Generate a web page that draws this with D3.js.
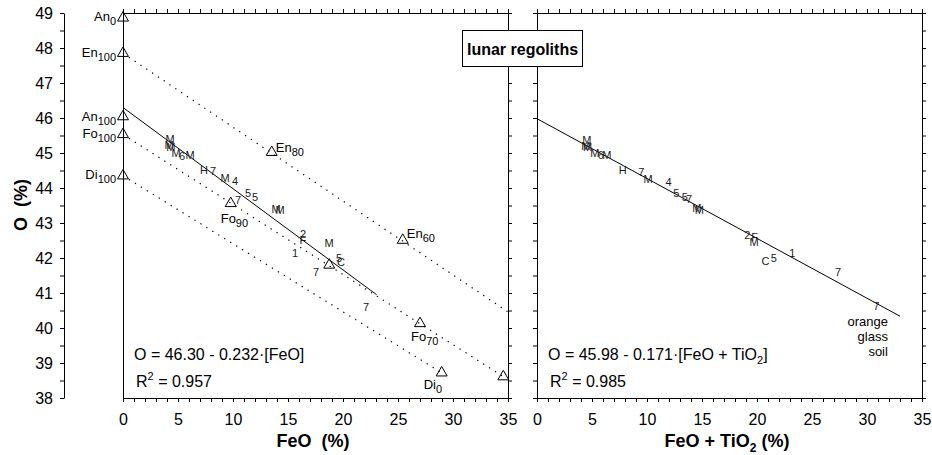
<!DOCTYPE html>
<html><head><meta charset="utf-8">
<script src="https://cdn.jsdelivr.net/npm/d3@7"></script>
<style>
body{margin:0;background:#fff}
text{font-family:Arial,"Liberation Sans",sans-serif;fill:#000}
</style>
</head><body>
<svg id="c" width="932" height="455"></svg>
<script>
// ---------- data ----------
const xTickLabels = [0, 5, 10, 15, 20, 25, 30, 35];
const yTickLabels = [38, 39, 40, 41, 42, 43, 44, 45, 46, 47, 48, 49];

// reference minerals (triangles), left panel
const minName = ["An", "En", "An", "Fo", "Di", "Fo", "En", "En", "Fo", "Di", "", ""];
const minSub  = ["0", "100", "100", "100", "100", "90", "80", "60", "70", "0", "", ""];
const minFeO  = [0, 0, 0, 0, 0, 9.79, 13.52, 25.43, 27.0, 28.97, 18.75, 34.57];
const minO    = [48.86, 47.85, 46.04, 45.53, 44.35, 43.56, 45.02, 42.51, 40.13, 38.72, 41.8, 38.61];

// mixing (tie) lines, left panel
const tieX0 = [0, 0, 0];
const tieY0 = [47.85, 45.53, 44.35];
const tieX1 = [35, 34.57, 28.97];
const tieY1 = [40.46, 38.61, 38.72];

// regolith samples, left panel (FeO, O)
const leftLab = ["M","M","M","M","6","M","H","7","M","4","5","5","7","M","M","2","F","1","M","7","5","C","7"];
const leftX   = [4.27,4.18,4.36,4.82,5.36,6.09,7.36,8.18,9.27,10.18,11.36,12.0,10.45,13.91,14.27,16.36,16.36,15.64,18.73,17.55,19.64,19.82,22.09];
const leftY   = [45.40,45.23,45.17,45.00,44.91,44.94,44.51,44.49,44.29,44.20,43.86,43.74,43.66,43.40,43.37,42.69,42.51,42.14,42.43,41.60,42.00,41.89,40.60];

// regolith samples, right panel (FeO + TiO2, O)
const rightLab = ["M","M","M","M","6","M","H","7","M","4","5","5","7","M","M","2","F","M","C","5","1","7","7"];
const rightX   = [4.52,4.43,4.61,5.25,5.79,6.34,7.79,9.49,10.09,11.97,12.67,13.43,13.82,14.52,14.75,19.13,19.79,19.73,20.76,21.52,23.22,27.36,30.85];
const rightY   = [45.37,45.20,45.17,45.00,44.94,44.94,44.51,44.45,44.25,44.17,43.85,43.73,43.68,43.42,43.37,42.66,42.59,42.47,41.92,41.99,42.13,41.61,40.63];

// regressions
const fitA = [46.30, 45.98];
const fitB = [0.232, 0.171];
const fitXmax = [23.06, 33.0];
const fitEq = ["O = 46.30 - 0.232·[FeO]", "O = 45.98 - 0.171·[FeO + TiO"];
const fitR2 = ["0.957", "0.985"];

// ---------- layout ----------
const svg = d3.select("#c");
const plotTop = 13, plotBottom = 398;
const y = d3.scaleLinear().domain([38, 49]).range([plotBottom, plotTop]);
const xL = d3.scaleLinear().domain([0, 35]).range([123, 508]);
const xR = d3.scaleLinear().domain([0, 35]).range([537, 922]);
const xTicksAll = d3.range(0, 35.01, 1);
const yTicksAll = d3.range(38, 49.01, 0.5);

function styleAxis(g) {
  g.selectAll("path,line").attr("stroke", "#000").attr("stroke-width", 1);
  g.selectAll("text").style("font-size", "16px").style("font-family", "Arial, 'Liberation Sans', sans-serif");
}

// Left y axis (separate, at x=64)
svg.append("g").attr("transform", "translate(64,0)")
  .call(d3.axisLeft(y).tickValues(yTicksAll).tickSize(4).tickSizeOuter(0).tickPadding(7)
    .tickFormat(d => yTickLabels.includes(d) ? d : ""))
  .call(styleAxis);

[xL, xR].forEach((x, i) => {
  svg.append("g").attr("transform", `translate(0,${plotBottom})`)
    .call(d3.axisBottom(x).tickValues(xTicksAll).tickSize(4).tickSizeOuter(0).tickPadding(12)
      .tickFormat(d => xTickLabels.includes(d) ? d : ""))
    .call(styleAxis);
  svg.append("g").attr("transform", `translate(0,${plotTop})`)
    .call(d3.axisTop(x).tickValues(xTicksAll).tickSize(4).tickSizeOuter(0).tickFormat(""))
    .call(styleAxis);
  svg.append("g").attr("transform", `translate(${x(35)},0)`)
    .call(d3.axisRight(y).tickValues(yTicksAll).tickSize(4).tickSizeOuter(0).tickFormat(""))
    .call(styleAxis);
  if (i === 0) {
    svg.append("line").attr("x1", x(0) + 0.5).attr("x2", x(0) + 0.5).attr("y1", plotTop).attr("y2", plotBottom)
      .attr("stroke", "#000");
  } else {
    svg.append("g").attr("transform", `translate(${x(0)},0)`)
      .call(d3.axisLeft(y).tickValues(yTicksAll).tickSize(4).tickSizeOuter(0).tickFormat(""))
      .call(styleAxis);
  }
});

// tie lines
svg.append("g").selectAll("line").data(tieX0).join("line")
  .attr("x1", (d, i) => xL(tieX0[i])).attr("y1", (d, i) => y(tieY0[i]))
  .attr("x2", (d, i) => xL(tieX1[i])).attr("y2", (d, i) => y(tieY1[i]))
  .attr("stroke", "#000").attr("stroke-width", 1.2).attr("stroke-dasharray", "1.3 5.7");

// regression lines
[xL, xR].forEach((x, i) => {
  svg.append("line")
    .attr("x1", x(0)).attr("y1", y(fitA[i]))
    .attr("x2", x(fitXmax[i])).attr("y2", y(fitA[i] - fitB[i] * fitXmax[i]))
    .attr("stroke", "#000").attr("stroke-width", 1);
});

// triangles
const tri = d3.symbol(d3.symbolTriangle, 52);
svg.append("g").selectAll("path").data(minFeO).join("path")
  .attr("d", tri)
  .attr("transform", (d, i) => `translate(${xL(minFeO[i])},${y(minO[i])})`)
  .attr("fill", "none").attr("stroke", "#000").attr("stroke-width", 1);

// mineral labels: [dx, dy(baseline), anchor]
const minLayout = [
  [-7, 3, "end"], [-7, 4, "end"], [-7, 4, "end"], [-7, 4, "end"], [-7, 3, "end"],
  [-10, 20, "start"], [4, 0, "start"], [4, -2, "start"], [-9, 18, "start"], [-18, 16, "start"],
  [0, 0, "start"], [0, 0, "start"]
];
minName.forEach((n, i) => {
  if (!n) return;
  const t = svg.append("text")
    .attr("x", xL(minFeO[i]) + minLayout[i][0])
    .attr("y", y(minO[i]) + minLayout[i][1])
    .attr("text-anchor", minLayout[i][2])
    .style("font-size", "13px");
  t.append("tspan").text(n);
  t.append("tspan").attr("dy", 4).style("font-size", "11px").text(minSub[i]);
});

// sample labels
function samples(lab, xs, ys, x) {
  svg.append("g").selectAll("text").data(lab).join("text")
    .attr("x", (d, i) => x(xs[i])).attr("y", (d, i) => y(ys[i]))
    .attr("dy", "0.36em").attr("text-anchor", "middle")
    .style("font-size", "11px").style("fill", "#1a1a1a")
    .text(d => d);
}
samples(leftLab, leftX, leftY, xL);
samples(rightLab, rightX, rightY, xR);

// orange glass soil note
const noteLines = ["orange", "glass", "soil"];
svg.append("g").selectAll("text").data(noteLines).join("text")
  .attr("x", xR(31.9)).attr("y", (d, i) => y(40.06) + i * 15)
  .attr("text-anchor", "end").style("font-size", "13px").text(d => d);

// equations
[xL, xR].forEach((x, i) => {
  const t = svg.append("text").attr("x", x(0) + 11).attr("y", 360).style("font-size", "16px");
  t.append("tspan").text(fitEq[i]);
  if (i === 1) {
    t.append("tspan").attr("dy", 4).style("font-size", "11px").text("2");
    t.append("tspan").attr("dy", -4).text("]");
  }
  const r = svg.append("text").attr("x", x(0) + 13).attr("y", 387).style("font-size", "16px");
  r.append("tspan").text("R");
  r.append("tspan").attr("dy", -7).style("font-size", "11px").text("2");
  r.append("tspan").attr("dy", 7).text(" = " + fitR2[i]);
});

// axis titles
svg.append("text").attr("x", 313).attr("y", 447).attr("text-anchor", "middle")
  .style("font-size", "18px").style("font-weight", "bold")
  .text("FeO\u00a0\u00a0(%)");
const xt = svg.append("text").attr("x", 727).attr("y", 447).attr("text-anchor", "middle")
  .style("font-size", "18px").style("font-weight", "bold");
xt.append("tspan").text("FeO + TiO");
xt.append("tspan").attr("dy", 5).style("font-size", "12px").text("2");
xt.append("tspan").attr("dy", -5).text(" (%)");
svg.append("text").attr("transform", "translate(27,205) rotate(-90)").attr("text-anchor", "middle")
  .style("font-size", "18px").style("font-weight", "bold").text("O\u00a0\u00a0(%)");

// title box
svg.append("rect").attr("x", 462.5).attr("y", 30.5).attr("width", 120).attr("height", 36)
  .attr("fill", "#fff").attr("stroke", "#000").attr("stroke-width", 1);
svg.append("text").attr("x", 522.5).attr("y", 55).attr("text-anchor", "middle")
  .style("font-size", "16px").style("font-weight", "bold").text("lunar regoliths");
</script>
</body></html>
